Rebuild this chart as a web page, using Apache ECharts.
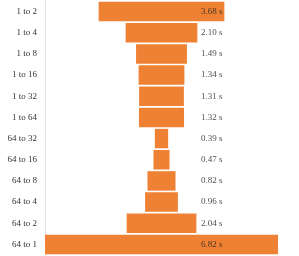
<!DOCTYPE html>
<html><head><meta charset="utf-8">
<script src="https://cdn.jsdelivr.net/npm/echarts@6/dist/echarts.min.js"></script>
<style>html,body{margin:0;padding:0;background:#fff}#c{width:299px;height:256px}</style>
</head><body><div id="c"></div>
<script>
const categories = ['1 to 2','1 to 4','1 to 8','1 to 16','1 to 32','1 to 64','64 to 32','64 to 16','64 to 8','64 to 4','64 to 2','64 to 1'];
const times = [3.68, 2.10, 1.49, 1.34, 1.31, 1.32, 0.39, 0.47, 0.82, 0.96, 2.04, 6.82];

const maxV = Math.max(...times);
const offsets = times.map(v => (maxV - v) / 2);
const LABEL_X = maxV * 0.67;

const chart = echarts.init(document.getElementById('c'), null, {renderer: 'canvas'});
chart.setOption({
  animation: false,
  grid: {left: 45, right: 21, top: 1, bottom: 1},
  xAxis: {type: 'value', min: 0, max: maxV, show: false},
  yAxis: {
    type: 'category', data: categories, inverse: true,
    axisLine: {show: true, lineStyle: {color: '#e3e3e3', width: 1}},
    axisTick: {show: false},
    axisLabel: {color: '#333', fontFamily: 'Liberation Serif', fontSize: 9, margin: 8}
  },
  series: [
    {type: 'bar', stack: 's', data: offsets, itemStyle: {color: 'transparent'}, barCategoryGap: '8%', silent: true},
    {type: 'bar', stack: 's', data: times, itemStyle: {color: '#EE8133'}, barCategoryGap: '8%'},
    {type: 'scatter', symbolSize: 0, data: times.map((v, i) => [LABEL_X, i, v]),
     label: {show: true, position: 'inside', align: 'left', color: '#222', fontFamily: 'Liberation Serif', fontSize: 9,
       formatter: p => p.value[2].toFixed(2) + ' s'}}
  ]
});
</script></body></html>
